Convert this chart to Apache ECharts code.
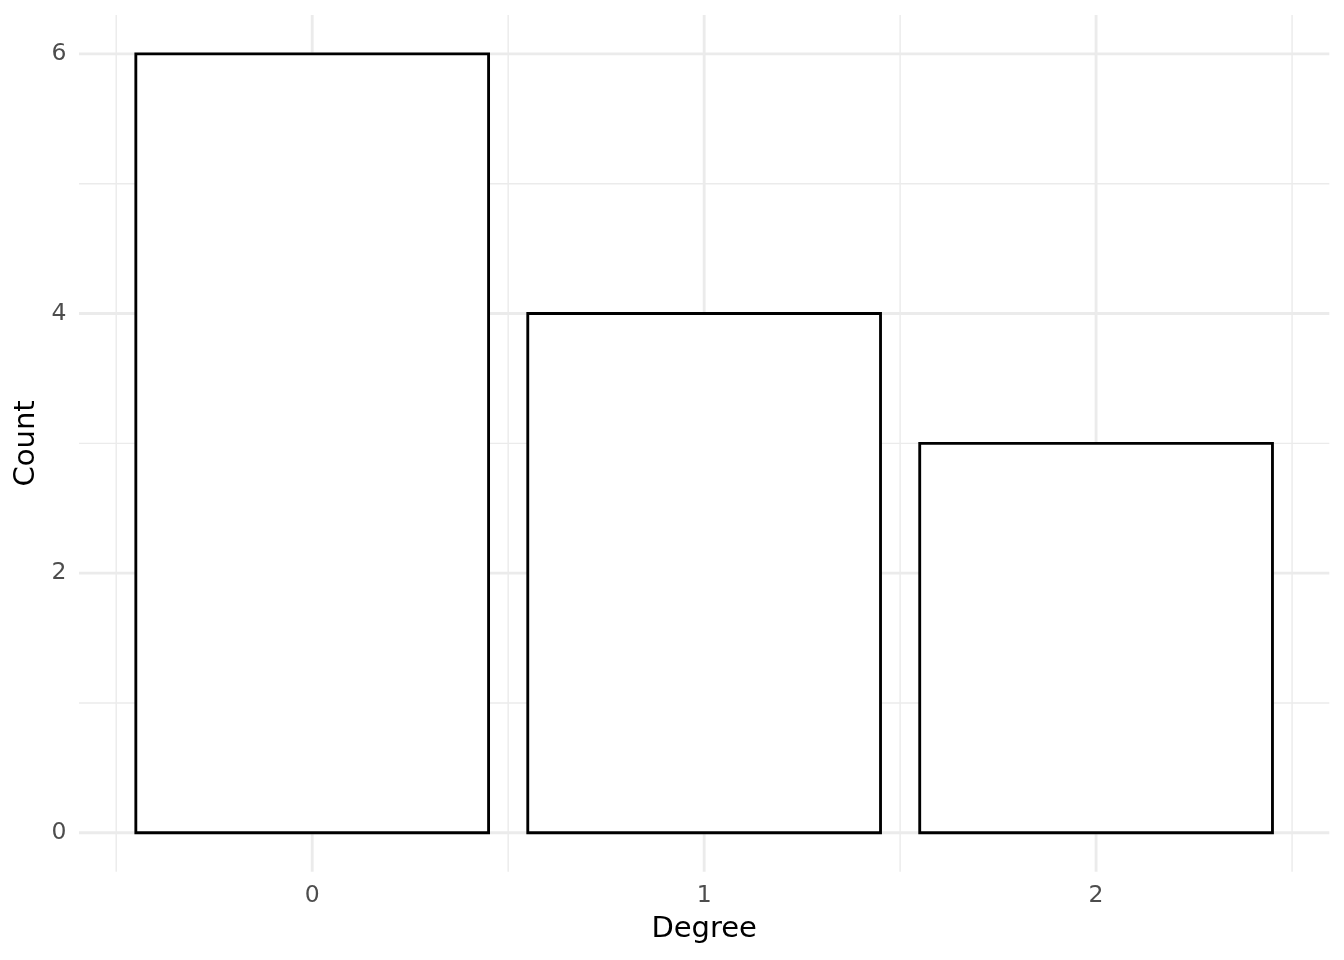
<!DOCTYPE html>
<html>
<head>
<meta charset="utf-8">
<script src="https://cdn.jsdelivr.net/npm/echarts@6/dist/echarts.min.js"></script>
<style>
html,body{margin:0;padding:0;background:#fff;}
#chart{width:1344px;height:960px;}
</style>
</head>
<body>
<div id="chart"></div>
<script>
// Data
const degrees = [0, 1, 2];
const counts = [6, 4, 3];
const xTicks = [0, 1, 2];
const xMinorTicks = [-0.5, 0.5, 1.5, 2.5];
const yTicks = [0, 2, 4, 6];
const yMinorTicks = [1, 3, 5];

const X_MIN = -0.595, X_MAX = 2.595;
const Y_MIN = -0.3, Y_MAX = 6.3;
const BAR_HALF = 0.45;
const FONT = 'DejaVu Sans';

const chart = echarts.init(document.getElementById('chart'), null, {renderer: 'canvas'});

function hLine(color, width) {
  return function (params, api) {
    const v = api.value(0);
    const a = api.coord([X_MIN, v]);
    const b = api.coord([X_MAX, v]);
    return {type: 'line', shape: {x1: a[0], y1: a[1], x2: b[0], y2: b[1]},
      style: {stroke: color, lineWidth: width}};
  };
}
function vLine(color, width) {
  return function (params, api) {
    const v = api.value(0);
    const a = api.coord([v, Y_MIN]);
    const b = api.coord([v, Y_MAX]);
    return {type: 'line', shape: {x1: a[0], y1: a[1], x2: b[0], y2: b[1]},
      style: {stroke: color, lineWidth: width}};
  };
}

const option = {
  backgroundColor: '#ffffff',
  animation: false,
  grid: {left: 79, right: 14.7, top: 15, bottom: 88.3},
  xAxis: {
    type: 'value', min: X_MIN, max: X_MAX,
    name: 'Degree', nameLocation: 'middle', nameGap: 43,
    nameTextStyle: {fontFamily: FONT, fontSize: 29, color: '#000'},
    axisLine: {show: false}, axisTick: {show: false}, splitLine: {show: false},
    axisLabel: {customValues: xTicks, fontFamily: FONT, fontSize: 23.5, color: '#4D4D4D', margin: 12,
      formatter: v => String(Math.round(v))}
  },
  yAxis: {
    type: 'value', min: Y_MIN, max: Y_MAX,
    name: 'Count', nameLocation: 'middle', nameGap: 35, nameRotate: 90,
    nameTextStyle: {fontFamily: FONT, fontSize: 29, color: '#000'},
    axisLine: {show: false}, axisTick: {show: false}, splitLine: {show: false},
    axisLabel: {customValues: yTicks, fontFamily: FONT, fontSize: 23.5, color: '#4D4D4D', margin: 12.5,
      padding: [2, 0, 0, 0],
      formatter: v => String(Math.round(v))}
  },
  series: [
    {type: 'custom', z: 1, silent: true, data: yMinorTicks.map(v => [v]), renderItem: hLine('#EBEBEB', 1.42), encode: {x: -1, y: 0}},
    {type: 'custom', z: 1, silent: true, data: xMinorTicks.map(v => [v]), renderItem: vLine('#EBEBEB', 1.42), encode: {x: 0, y: -1}},
    {type: 'custom', z: 2, silent: true, data: yTicks.map(v => [v]), renderItem: hLine('#EBEBEB', 2.85), encode: {x: -1, y: 0}},
    {type: 'custom', z: 2, silent: true, data: xTicks.map(v => [v]), renderItem: vLine('#EBEBEB', 2.85), encode: {x: 0, y: -1}},
    {
      type: 'custom', z: 5,
      data: degrees.map((d, i) => [d, counts[i]]),
      encode: {x: 0, y: 1},
      renderItem: function (params, api) {
        const x = api.value(0), y = api.value(1);
        const p1 = api.coord([x - BAR_HALF, y]);
        const p2 = api.coord([x + BAR_HALF, 0]);
        return {type: 'rect',
          shape: {x: p1[0], y: p1[1], width: p2[0] - p1[0], height: p2[1] - p1[1]},
          style: {fill: '#ffffff', stroke: '#000000', lineWidth: 2.85}};
      }
    }
  ]
};
chart.setOption(option);
</script>
</body>
</html>
